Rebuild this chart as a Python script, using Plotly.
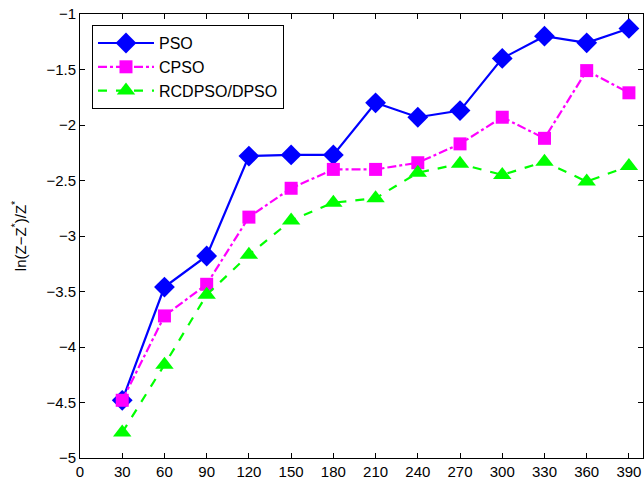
import plotly.graph_objects as go

x_vals = [30, 60, 90, 120, 150, 180, 210, 240, 270, 300, 330, 360, 390]
pso = [-4.48, -3.46, -3.18, -2.28, -2.27, -2.27, -1.80, -1.93, -1.87, -1.40, -1.20, -1.26, -1.13]
cpso = [-4.48, -3.72, -3.435, -2.83, -2.57, -2.40, -2.40, -2.34, -2.17, -1.93, -2.12, -1.51, -1.71]
rcdpso = [-4.77, -4.16, -3.53, -3.17, -2.86, -2.70, -2.66, -2.43, -2.35, -2.45, -2.33, -2.51, -2.37]
x_ticks = list(range(0, 391, 30))
y_ticks = [-5, -4.5, -4, -3.5, -3, -2.5, -2, -1.5, -1]

fig = go.Figure()
fig.add_trace(go.Scatter(x=x_vals, y=pso, name="PSO", mode="lines+markers",
                         line=dict(color="#0000FF", width=2.2, dash="solid"),
                         marker=dict(symbol="diamond", size=16, color="#0000FF")))
fig.add_trace(go.Scatter(x=x_vals, y=cpso, name="CPSO", mode="lines+markers",
                         line=dict(color="#FF00FF", width=2.2, dash="dashdot"),
                         marker=dict(symbol="square", size=13, color="#FF00FF")))
fig.add_trace(go.Scatter(x=x_vals, y=rcdpso, name="RCDPSO/DPSO", mode="lines+markers",
                         line=dict(color="#00FF00", width=2.2, dash="dash"),
                         marker=dict(symbol="triangle-up", size=16, color="#00FF00")))

font_fam = "Liberation Sans, Arial, Helvetica, sans-serif"
fig.update_layout(
    width=644, height=484,
    margin=dict(l=80, r=1, t=14, b=26),
    paper_bgcolor="white", plot_bgcolor="white",
    font=dict(family=font_fam, size=15, color="black"),
    showlegend=True,
    legend=dict(x=0.0213, y=0.975, xanchor="left", yanchor="top",
                bordercolor="black", borderwidth=1, bgcolor="white",
                font=dict(size=16), itemwidth=56, tracegroupgap=0),
    xaxis=dict(range=[0, 400], tickmode="array", tickvals=x_ticks,
               ticks="inside", ticklen=5, tickcolor="black",
               showline=True, linecolor="black", linewidth=1, mirror="ticks",
               showgrid=False, zeroline=False),
    yaxis=dict(range=[-5, -1], tickmode="array", tickvals=y_ticks,
               ticktext=[("\u2212" + str(abs(v)).rstrip("0").rstrip(".")) if v < 0 else str(v) for v in y_ticks],
               ticks="inside", ticklen=5, tickcolor="black",
               showline=True, linecolor="black", linewidth=1, mirror="ticks",
               showgrid=False, zeroline=False,
               title=dict(text="ln(Z\u2212Z<sup>*</sup>)/Z<sup>*</sup>", font=dict(size=15), standoff=16)),
)
fig.write_html("out.html")
